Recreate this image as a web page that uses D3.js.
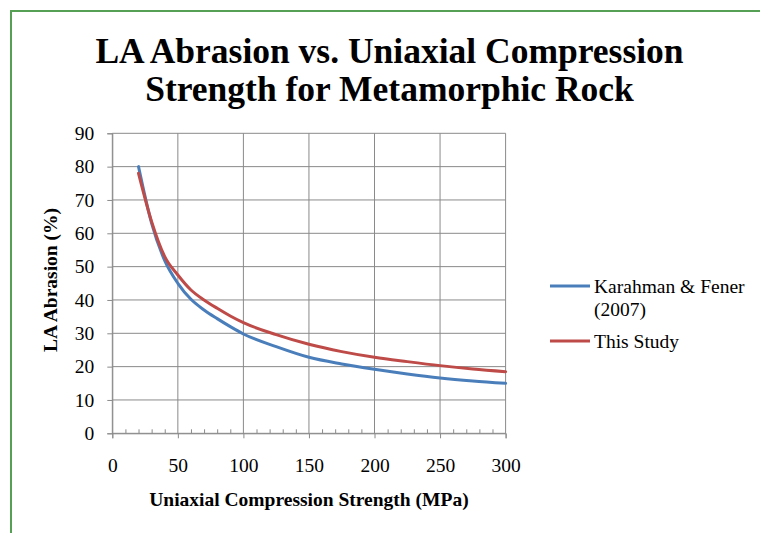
<!DOCTYPE html>
<html>
<head>
<meta charset="utf-8">
<script src="https://cdn.jsdelivr.net/npm/d3@7"></script>
<style>
  html, body { margin: 0; padding: 0; background: #fff; }
  svg { display: block; }
  svg text { font-family: "Liberation Serif", "Times New Roman", serif !important; fill: #000; }
</style>
</head>
<body>
<svg id="chart" width="760" height="533" font-family="Liberation Serif"></svg>
<script>
// ---- Data ----
const titleLines = ["LA Abrasion vs. Uniaxial Compression", "Strength for Metamorphic Rock"];
const xLabel = "Uniaxial Compression Strength (MPa)";
const yLabel = "LA Abrasion (%)";
const xTicks = [0, 50, 100, 150, 200, 250, 300];
const yTicks = [0, 10, 20, 30, 40, 50, 60, 70, 80, 90];
const ucs = [20, 30, 40, 50, 60, 70, 80, 90, 100, 125, 150, 175, 200, 225, 250, 275, 300];
const karahman = [80, 63, 51.8, 45, 40.2, 37, 34.4, 32, 29.8, 26, 22.8, 20.8, 19.2, 17.8, 16.6, 15.7, 15];
const thisStudy = [78, 63.5, 53, 47.5, 43, 40, 37.5, 35.2, 33.2, 29.6, 26.7, 24.5, 22.8, 21.5, 20.3, 19.3, 18.5];
const seriesNames = ["Karahman & Fener", "(2007)", "This Study"];
const colors = ["#4A7EBB", "#BE4B48"];

(function () {
const svg = d3.select("#chart");
const FS = "19.5px";

// outer chart border (green)
svg.append("rect")
  .attr("x", 11).attr("y", 11).attr("width", 760).attr("height", 540)
  .attr("fill", "none").attr("stroke", "#55A055").attr("stroke-width", 2);

const pL = 112.3, pR = 505.6, pT = 133.3, pB = 433.3;
const x = d3.scaleLinear().domain([0, 300]).range([pL, pR]);
const y = d3.scaleLinear().domain([0, 90]).range([pB, pT]);

const gridColor = "#8a8a8a";

// horizontal gridlines
svg.append("g").selectAll("line").data(yTicks).join("line")
  .attr("x1", pL).attr("x2", pR)
  .attr("y1", d => y(d)).attr("y2", d => y(d))
  .attr("stroke", gridColor).attr("stroke-width", 1);

// vertical gridlines
svg.append("g").selectAll("line").data(xTicks).join("line")
  .attr("x1", d => x(d)).attr("x2", d => x(d))
  .attr("y1", pT).attr("y2", pB)
  .attr("stroke", gridColor).attr("stroke-width", 1);

// y axis (outward ticks)
const yAxis = d3.axisLeft(y).tickValues(yTicks).tickSize(5).tickPadding(13);
const gy = svg.append("g").attr("transform", `translate(${pL},0)`).call(yAxis)
  .attr("font-family", "Liberation Serif").attr("font-size", null);
gy.select(".domain").attr("stroke", gridColor);
gy.selectAll(".tick line").attr("stroke", gridColor);
gy.selectAll("text").style("font-size", FS).attr("fill", "#000");

// x axis major (outward ticks)
const xAxis = d3.axisBottom(x).tickValues(xTicks).tickSize(5).tickPadding(20);
const gx = svg.append("g").attr("transform", `translate(0,${pB})`).call(xAxis)
  .attr("font-family", "Liberation Serif").attr("font-size", null);
gx.select(".domain").attr("stroke", gridColor);
gx.selectAll(".tick line").attr("stroke", gridColor);
gx.selectAll("text").style("font-size", FS).attr("fill", "#000");

// x axis minor ticks (inward)
const minor = d3.range(0, 301, 10).filter(v => v % 50 !== 0);
const xMinor = d3.axisTop(x).tickValues(minor).tickSize(4).tickFormat("");
const gxm = svg.append("g").attr("transform", `translate(0,${pB})`).call(xMinor);
gxm.select(".domain").remove();
gxm.selectAll(".tick line").attr("stroke", gridColor);

// series lines
const line = d3.line().x(d => x(d[0])).y(d => y(d[1])).curve(d3.curveMonotoneX);
[karahman, thisStudy].forEach((vals, i) => {
  svg.append("path")
    .datum(ucs.map((u, j) => [u, vals[j]]))
    .attr("d", line)
    .attr("fill", "none")
    .attr("stroke", colors[i])
    .attr("stroke-width", 3)
    .attr("stroke-linecap", "round");
});

// title
svg.append("text")
  .attr("x", 389.5).attr("text-anchor", "middle")
  .style("font-size", "35.5px").style("font-weight", "bold")
  .selectAll("tspan").data(titleLines).join("tspan")
  .attr("x", 389.5).attr("y", (d, i) => 63 + i * 38).text(d => d);

// axis labels
svg.append("text")
  .attr("x", (pL + pR) / 2).attr("y", 506)
  .attr("text-anchor", "middle")
  .style("font-size", FS).style("font-weight", "bold")
  .text(xLabel);

svg.append("text")
  .attr("transform", `translate(57,280) rotate(-90)`)
  .attr("text-anchor", "middle")
  .style("font-size", FS).style("font-weight", "bold")
  .text(yLabel);

// legend
const lg = svg.append("g");
lg.append("line").attr("x1", 550).attr("x2", 590).attr("y1", 286).attr("y2", 286)
  .attr("stroke", colors[0]).attr("stroke-width", 3);
lg.append("text").attr("x", 594).attr("y", 293).style("font-size", FS).text(seriesNames[0]);
lg.append("text").attr("x", 594).attr("y", 316).style("font-size", FS).text(seriesNames[1]);
lg.append("line").attr("x1", 550).attr("x2", 590).attr("y1", 341).attr("y2", 341)
  .attr("stroke", colors[1]).attr("stroke-width", 3);
lg.append("text").attr("x", 594).attr("y", 348).style("font-size", FS).text(seriesNames[2]);
})();
</script>
</body>
</html>
